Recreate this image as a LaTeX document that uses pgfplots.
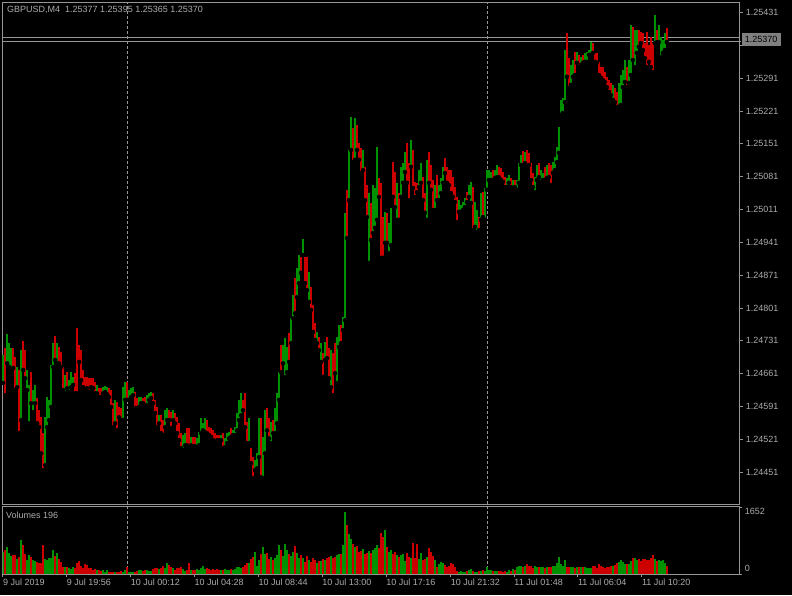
\documentclass[border=0pt]{standalone}
\usepackage{fontspec}
\setmainfont{Liberation Sans}
\usepackage{pgfplots}
\usepackage{pgfplotstable}
\pgfplotsset{compat=1.18}

\definecolor{mtgreen}{RGB}{0,145,0}
\definecolor{mtred}{RGB}{205,0,0}
\definecolor{mtgray}{RGB}{150,150,150}
\definecolor{mttext}{RGB}{172,172,172}
\definecolor{boxgray}{RGB}{128,128,128}

% GBPUSD M4 bars, x = bar position, l/h = low/high, v = tick volume
\pgfplotstableread{
x l h v
3 1.24641 1.24701 551
7 1.24683 1.24745 674
9 1.24675 1.24726 510
11 1.24669 1.24715 444
17 1.24632 1.24675 362
21 1.24562 1.24711 838
27 1.24626 1.24669 345
29 1.24555 1.24637 469
33 1.24579 1.24626 345
35 1.24598 1.24637 321
45 1.24466 1.24568 370
47 1.24547 1.24611 345
49 1.24562 1.24605 386
51 1.24590 1.24679 386
53 1.24675 1.24726 592
57 1.24683 1.24726 510
65 1.24619 1.24658 173
69 1.24622 1.24647 140
71 1.24632 1.24664 123
73 1.24637 1.24654 164
97 1.24619 1.24637 90
103 1.24619 1.24632 99
105 1.24622 1.24634 58
107 1.24617 1.24632 90
115 1.24555 1.24605 41
123 1.24562 1.24632 58
125 1.24605 1.24643 99
129 1.24605 1.24626 58
131 1.24611 1.24630 41
133 1.24615 1.24632 58
139 1.24590 1.24611 90
141 1.24598 1.24611 99
147 1.24594 1.24615 99
149 1.24605 1.24619 74
151 1.24609 1.24622 74
159 1.24555 1.24572 123
165 1.24547 1.24583 156
167 1.24562 1.24587 263
173 1.24562 1.24583 140
183 1.24498 1.24530 123
185 1.24508 1.24534 74
191 1.24508 1.24526 99
197 1.24504 1.24523 123
199 1.24508 1.24536 99
201 1.24534 1.24566 140
203 1.24540 1.24555 206
205 1.24536 1.24566 123
221 1.24519 1.24530 107
225 1.24504 1.24523 123
227 1.24513 1.24534 90
229 1.24523 1.24536 99
233 1.24530 1.24540 99
235 1.24530 1.24547 123
237 1.24540 1.24577 164
239 1.24562 1.24605 181
241 1.24572 1.24619 140
249 1.24513 1.24566 263
255 1.24455 1.24476 551
257 1.24459 1.24491 206
259 1.24483 1.24566 345
263 1.24438 1.24526 674
265 1.24491 1.24583 485
271 1.24513 1.24558 427
275 1.24534 1.24587 386
277 1.24555 1.24619 469
279 1.24605 1.24664 715
283 1.24683 1.24722 444
285 1.24654 1.24737 732
287 1.24664 1.24718 592
291 1.24726 1.24779 444
293 1.24779 1.24829 551
297 1.24824 1.24886 510
299 1.24854 1.24914 403
303 1.24914 1.24948 386
309 1.24814 1.24878 345
317 1.24726 1.24750 271
321 1.24686 1.24726 321
325 1.24690 1.24728 345
331 1.24632 1.24711 452
337 1.24641 1.24739 469
339 1.24718 1.24765 493
343 1.24754 1.24782 715
345 1.24775 1.25004 1537
349 1.25031 1.25138 978
351 1.25138 1.25208 855
355 1.25117 1.25206 674
363 1.25095 1.25138 608
369 1.24897 1.25046 567
373 1.24961 1.25063 584
375 1.24972 1.25057 633
377 1.24989 1.25144 715
385 1.24940 1.25006 1085
389 1.24918 1.24982 534
391 1.24935 1.25014 592
397 1.24989 1.25068 469
401 1.25038 1.25102 469
403 1.25068 1.25110 485
405 1.25091 1.25134 321
411 1.25102 1.25159 386
419 1.25059 1.25095 370
421 1.25068 1.25110 510
427 1.24989 1.25117 427
435 1.25010 1.25063 345
439 1.25031 1.25063 238
441 1.25046 1.25078 304
443 1.25068 1.25102 263
459 1.25006 1.25031 58
461 1.25006 1.25021 66
463 1.25010 1.25027 49
465 1.25016 1.25036 58
469 1.25038 1.25063 107
471 1.25025 1.25070 115
475 1.24974 1.25027 49
477 1.24963 1.25010 58
481 1.24989 1.25046 66
485 1.24989 1.25057 82
487 1.25053 1.25095 181
489 1.25074 1.25095 99
491 1.25074 1.25091 90
495 1.25078 1.25095 66
497 1.25080 1.25106 74
507 1.25059 1.25078 58
509 1.25068 1.25085 90
513 1.25057 1.25074 123
517 1.25053 1.25074 181
519 1.25068 1.25110 206
521 1.25106 1.25127 206
525 1.25110 1.25134 189
535 1.25048 1.25080 189
537 1.25074 1.25106 164
541 1.25070 1.25095 164
543 1.25074 1.25089 164
547 1.25078 1.25106 164
553 1.25089 1.25112 206
555 1.25095 1.25123 197
557 1.25112 1.25144 263
559 1.25132 1.25187 427
561 1.25213 1.25245 238
563 1.25217 1.25249 206
565 1.25240 1.25351 345
571 1.25277 1.25319 181
573 1.25294 1.25330 164
577 1.25324 1.25347 181
581 1.25319 1.25336 164
585 1.25326 1.25345 164
587 1.25326 1.25347 140
589 1.25341 1.25351 148
591 1.25341 1.25368 148
613 1.25245 1.25277 189
619 1.25230 1.25281 304
621 1.25234 1.25298 345
623 1.25272 1.25309 304
625 1.25283 1.25330 247
629 1.25281 1.25330 238
631 1.25298 1.25405 329
635 1.25315 1.25394 403
637 1.25345 1.25394 353
655 1.25366 1.25426 370
659 1.25368 1.25405 337
661 1.25336 1.25379 329
663 1.25345 1.25373 337
665 1.25351 1.25388 263
}\bull

\pgfplotstableread{
x l h v
5 1.24615 1.24715 592
13 1.24673 1.24715 469
15 1.24626 1.24696 469
19 1.24534 1.24669 427
23 1.24669 1.24730 715
25 1.24651 1.24711 485
31 1.24598 1.24664 427
37 1.24555 1.24609 304
39 1.24547 1.24583 263
41 1.24491 1.24568 263
43 1.24455 1.24534 715
55 1.24690 1.24741 452
59 1.24683 1.24718 370
61 1.24675 1.24707 304
63 1.24626 1.24675 181
67 1.24630 1.24664 181
75 1.24619 1.24662 140
77 1.24619 1.24758 263
79 1.24686 1.24722 321
81 1.24647 1.24711 206
83 1.24632 1.24669 156
85 1.24626 1.24654 238
87 1.24630 1.24654 222
89 1.24622 1.24651 156
91 1.24632 1.24651 140
93 1.24630 1.24651 99
95 1.24619 1.24643 123
99 1.24611 1.24630 99
101 1.24611 1.24630 74
109 1.24611 1.24630 58
111 1.24590 1.24626 49
113 1.24547 1.24598 58
117 1.24540 1.24600 58
119 1.24568 1.24590 58
121 1.24562 1.24587 74
127 1.24605 1.24643 181
135 1.24587 1.24622 58
137 1.24587 1.24609 74
143 1.24598 1.24609 74
145 1.24590 1.24611 90
153 1.24598 1.24619 123
155 1.24577 1.24605 140
157 1.24547 1.24590 156
161 1.24534 1.24572 156
163 1.24530 1.24562 206
169 1.24562 1.24583 222
171 1.24545 1.24579 181
175 1.24555 1.24577 99
177 1.24534 1.24568 156
179 1.24519 1.24555 140
181 1.24502 1.24534 181
187 1.24508 1.24545 99
189 1.24504 1.24545 263
193 1.24506 1.24526 90
195 1.24506 1.24526 107
207 1.24534 1.24562 140
209 1.24530 1.24547 115
211 1.24526 1.24545 99
213 1.24519 1.24540 123
215 1.24515 1.24534 90
217 1.24519 1.24530 123
219 1.24519 1.24530 90
223 1.24502 1.24534 107
231 1.24526 1.24545 123
243 1.24583 1.24605 181
245 1.24547 1.24619 222
247 1.24513 1.24558 263
251 1.24470 1.24502 370
253 1.24438 1.24483 427
261 1.24440 1.24566 485
267 1.24540 1.24587 510
269 1.24523 1.24566 362
273 1.24534 1.24562 345
281 1.24664 1.24722 592
289 1.24686 1.24747 501
295 1.24790 1.24865 699
301 1.24876 1.24910 469
305 1.24854 1.24910 304
307 1.24839 1.24910 452
311 1.24797 1.24846 304
313 1.24750 1.24807 403
315 1.24733 1.24769 345
319 1.24711 1.24739 321
323 1.24654 1.24705 370
327 1.24694 1.24739 386
329 1.24651 1.24715 419
333 1.24615 1.24705 386
335 1.24662 1.24726 427
341 1.24726 1.24765 493
347 1.24950 1.25053 1208
353 1.25112 1.25185 732
357 1.25138 1.25191 699
359 1.25117 1.25153 534
361 1.25089 1.25142 567
365 1.25031 1.25102 485
367 1.24995 1.25063 526
371 1.24946 1.25025 526
379 1.25038 1.25078 633
381 1.24908 1.25068 1003
383 1.24908 1.24995 921
387 1.24940 1.25004 674
393 1.25038 1.25112 485
395 1.25016 1.25091 551
399 1.24989 1.25046 427
407 1.25068 1.25153 510
409 1.25031 1.25110 411
413 1.25057 1.25138 756
415 1.25038 1.25070 386
417 1.25048 1.25068 732
423 1.25031 1.25080 345
425 1.25004 1.25046 370
429 1.25068 1.25134 649
431 1.25053 1.25106 551
433 1.25010 1.25074 452
437 1.25031 1.25085 181
445 1.25089 1.25121 222
447 1.25068 1.25102 181
449 1.25063 1.25095 206
451 1.25046 1.25095 279
453 1.25038 1.25080 238
455 1.25027 1.25059 181
457 1.24984 1.25038 74
467 1.25027 1.25048 74
473 1.24967 1.25059 74
479 1.24967 1.24995 66
483 1.24995 1.25048 90
493 1.25074 1.25095 66
499 1.25080 1.25102 66
501 1.25074 1.25100 66
503 1.25070 1.25091 58
505 1.25059 1.25080 66
511 1.25059 1.25078 82
515 1.25059 1.25074 107
523 1.25106 1.25136 164
527 1.25102 1.25138 238
529 1.25106 1.25132 189
531 1.25074 1.25110 206
533 1.25059 1.25089 156
539 1.25080 1.25110 181
545 1.25074 1.25102 148
549 1.25080 1.25110 181
551 1.25063 1.25106 173
567 1.25294 1.25388 181
569 1.25270 1.25334 164
575 1.25298 1.25347 156
579 1.25315 1.25341 181
583 1.25324 1.25341 173
593 1.25345 1.25366 206
595 1.25326 1.25345 197
597 1.25324 1.25345 156
599 1.25298 1.25326 247
601 1.25292 1.25315 197
603 1.25287 1.25315 181
605 1.25283 1.25304 148
607 1.25272 1.25294 173
609 1.25262 1.25287 173
611 1.25255 1.25281 189
615 1.25240 1.25270 222
617 1.25230 1.25262 263
627 1.25272 1.25315 255
633 1.25330 1.25400 403
639 1.25358 1.25394 378
641 1.25366 1.25390 329
643 1.25351 1.25388 370
645 1.25334 1.25366 378
647 1.25315 1.25390 353
649 1.25326 1.25362 345
651 1.25315 1.25379 386
653 1.25304 1.25366 469
657 1.25368 1.25394 312
667 1.25368 1.25398 206
}\bear

\pgfplotsset{
  mtpanel/.style={
    anchor=south west, scale only axis, width=736.6pt,
    xmin=2.5, xmax=739.5,
    axis line style={mtgray, line width=1pt},
    tick style={mtgray, line width=1pt},
    tick align=outside,
    font=\fontsize{9}{10}\selectfont,
    extra x ticks={127.3,487.3}, extra x tick labels={},
    extra x tick style={grid=major, major tick length=0pt},
    major grid style={mtgray, line width=1pt, dash pattern=on 3pt off 2pt},
  },
  candle/.style={only marks, mark=none,
    error bars/.cd, y dir=plus, y explicit, error mark=none,
    error bar style={line width=1.7pt, #1}},
}

\begin{document}
\begin{tikzpicture}
\path[use as bounding box, fill=black] (0,0) rectangle (792pt,595pt);

% price panel
\begin{axis}[mtpanel,
  at={(2.7pt,91pt)}, height=501.7pt,
  ymin=1.24383, ymax=1.25453, clip=false,
  xtick=\empty, scaled y ticks=false,
  ytick pos=right, yticklabel pos=right, major tick length=4pt,
  ytick={1.24451,1.24521,1.24591,1.24661,1.24731,1.24801,1.24871,1.24941,
    1.25011,1.25081,1.25151,1.25221,1.25291,1.25361,1.25431},
  % the 1.25361 label sits under the current-price box
  yticklabels={1.24451,1.24521,1.24591,1.24661,1.24731,1.24801,1.24871,1.24941,
    1.25011,1.25081,1.25151,1.25221,1.25291,,1.25431},
  yticklabel style={anchor=west, inner sep=0pt, xshift=2.4pt, text=mttext},
  extra y ticks={1.25370}, extra y tick labels={1.25370},
  extra y tick style={major tick length=2pt,
    yticklabel style={fill=boxgray, text=black, inner xsep=3.4pt, inner ysep=3.6pt,
      xshift=-2.4pt, yshift=1.5pt}},
]
\addplot[mtgray, line width=1pt] coordinates {(2.5,1.25377) (739.5,1.25377)};
\addplot[mtgray, line width=1pt] coordinates {(2.5,1.25370) (739.5,1.25370)};
\addplot[candle=mtgreen] table[x=x, y=l, y error plus expr=\thisrow{h}-\thisrow{l}] {\bull};
\addplot[candle=mtred] table[x=x, y=l, y error plus expr=\thisrow{h}-\thisrow{l}] {\bear};
\node[anchor=west, inner sep=0pt, text=mttext, font=\fontsize{9}{10}\selectfont]
  at (rel axis cs:0,1) [xshift=4.3pt, yshift=-7.2pt]
  {GBPUSD,M4\ \ 1.25377 1.25395 1.25365 1.25370};
\end{axis}

% volume panel
\begin{axis}[mtpanel,
  at={(2.7pt,21pt)}, height=67.3pt,
  ymin=0, ymax=1665,
  xtick pos=bottom, major tick length=3pt,
  xtick={2.7,66.6,130.5,194.4,258.3,322.2,386.1,450.7,514.3,578,642},
  xticklabels={9 Jul 2019,9 Jul 19:56,10 Jul 00:12,10 Jul 04:28,10 Jul 08:44,
    10 Jul 13:00,10 Jul 17:16,10 Jul 21:32,11 Jul 01:48,11 Jul 06:04,11 Jul 10:20},
  xticklabel style={anchor=north west, inner sep=0pt, yshift=-2pt, text=mttext},
  ytick={0,1652}, ytick pos=right, yticklabel pos=right,
  yticklabel={\ifnum\ticknum=0 \raisebox{5.5pt}[\height][\depth]{0}\else\raisebox{-4pt}[\height][\depth]{1652}\fi},
  yticklabel style={anchor=west, inner sep=0pt, xshift=2.4pt, text=mttext},
]
\addplot[ycomb, mark=none, mtgreen, line width=1.7pt] table[x=x, y=v] {\bull};
\addplot[ycomb, mark=none, mtred, line width=1.7pt] table[x=x, y=v] {\bear};
\node[anchor=west, inner sep=0pt, text=mttext, font=\fontsize{9}{10}\selectfont]
  at (rel axis cs:0,1) [xshift=3.3pt, yshift=-9pt] {Volumes 196};
\end{axis}
\end{tikzpicture}
\end{document}
